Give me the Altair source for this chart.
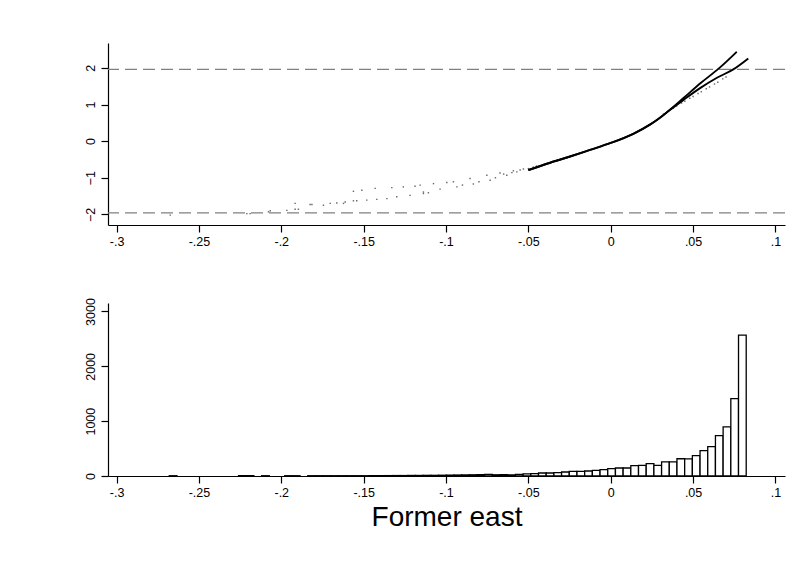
import altair as alt
import pandas as pd

# ---- histogram: 75 equal-width bins of the estimated effect ----
bin_start0 = -0.268
bin_width = 0.00467
bin_counts = [
    5, 0, 0, 0, 0, 0, 0, 0, 0, 6,
    6, 0, 5, 0, 0, 5, 5, 0, 5, 5,
    5, 5, 5, 5, 5, 5, 6, 6, 7, 8,
    8, 10, 10, 12, 12, 14, 16, 18, 20, 22,
    26, 28, 22, 24, 20, 30, 37, 43, 55, 55,
    61, 73, 85, 85, 91, 104, 116, 134, 146, 146,
    189, 195, 226, 195, 256, 256, 315, 311, 372, 463,
    536, 737, 896, 1410, 2568,
]

# ---- scatter of t-statistics against the effect ----
dot_x = [
    -0.2674, -0.2209, -0.2189, -0.2078, -0.2067, -0.1966, -0.1916, -0.1916,
    -0.1896, -0.1825, -0.1814, -0.1744, -0.1703, -0.1663, -0.1622, -0.1612,
    -0.1562, -0.1562, -0.1542, -0.1511, -0.1481, -0.1430, -0.1420, -0.1359,
    -0.1329, -0.1299, -0.1259, -0.1218, -0.1188, -0.1157, -0.1137, -0.1137,
    -0.1107, -0.1076, -0.1036, -0.0995, -0.0955, -0.0934, -0.0900, -0.0854,
    -0.0834, -0.0800, -0.0752, -0.0732, -0.0700, -0.0672, -0.0650, -0.0631,
    -0.0600, -0.0591, -0.0570, -0.0550, -0.0530, -0.0500, -0.0470, -0.0450,
    0.0320, 0.0350, 0.0380, 0.0400, 0.0430, 0.0450, 0.0480, 0.0500,
    0.0530, 0.0550, 0.0580, 0.0600, 0.0630, 0.0650, 0.0680, 0.0700,
]
dot_y = [
    -2.02, -1.98, -1.98, -1.93, -1.90, -1.89, -1.70, -1.86,
    -1.86, -1.73, -1.73, -1.75, -1.70, -1.69, -1.70, -1.66,
    -1.37, -1.63, -1.63, -1.34, -1.61, -1.29, -1.59, -1.57,
    -1.27, -1.52, -1.25, -1.48, -1.23, -1.20, -1.43, -1.39,
    -1.41, -1.16, -1.31, -1.13, -1.11, -1.25, -1.20, -1.02,
    -1.17, -1.11, -0.93, -1.07, -1.00, -0.87, -0.90, -0.93,
    -0.86, -0.81, -0.84, -0.79, -0.76, -0.75, -0.71, -0.68,
    0.74, 0.82, 0.90, 0.96, 1.04, 1.09, 1.17, 1.22,
    1.30, 1.35, 1.43, 1.48, 1.56, 1.61, 1.70, 1.75,
]

# ---- two fitted curves sharing the same lower part ----
common_x = [-0.050, -0.0368, -0.0247, -0.0126, 0.0, 0.0137, 0.0238, 0.0299, 0.035]
common_y = [-0.79, -0.59, -0.42, -0.24, -0.05, 0.20, 0.45, 0.64, 0.82]
steep_x = [0.044, 0.055, 0.0655, 0.0765]
steep_y = [1.17, 1.60, 1.98, 2.44]
flat_x = [0.044, 0.054, 0.0645, 0.0744, 0.0835]
flat_y = [1.12, 1.44, 1.73, 1.96, 2.26]

crit_values = [-1.96, 1.96]

x_ticks = [-0.3, -0.25, -0.2, -0.15, -0.1, -0.05, 0, 0.05, 0.1]
x_domain = [-0.3052, 0.1058]

FONT = "Liberation Sans"
label_expr = "datum.value == 0 ? '0' : replace(toString(datum.value), '0.', '.')"

hist_df = pd.DataFrame({
    "lo": [bin_start0 + i * bin_width for i in range(len(bin_counts))],
    "hi": [bin_start0 + (i + 1) * bin_width for i in range(len(bin_counts))],
    "n": bin_counts,
})
hist_df = hist_df[hist_df["n"] > 0]

dots_df = pd.DataFrame({"b": dot_x, "t": dot_y})
lines_df = pd.DataFrame({
    "b": common_x + steep_x + common_x + flat_x,
    "t": common_y + steep_y + common_y + flat_y,
    "fit": ["a"] * (len(common_x) + len(steep_x)) + ["b"] * (len(common_x) + len(flat_x)),
})
crit_df = pd.DataFrame({"t": crit_values})

x_axis = alt.Axis(values=x_ticks, labelExpr=label_expr, title=None, grid=False,
                  tickSize=7, labelPadding=3)
x_scale = alt.Scale(domain=x_domain, nice=False, zero=False)

W = 677
top_y = alt.Y("t:Q", scale=alt.Scale(domain=[-2.29, 2.68], nice=False, zero=False),
              axis=alt.Axis(values=[-2, -1, 0, 1, 2], title=None, grid=False,
                            labelAngle=270, labelAlign="center", labelBaseline="bottom",
                            tickSize=7, labelPadding=4))

crit = alt.Chart(crit_df).mark_rule(color="#808080", strokeWidth=1.4,
                                    strokeDash=[12, 6]).encode(y=top_y)
dots = alt.Chart(dots_df).mark_square(size=2, color="#555555", opacity=0.9).encode(
    x=alt.X("b:Q", scale=x_scale, axis=x_axis), y=top_y)
fits = alt.Chart(lines_df).mark_line(color="black", strokeWidth=1.9,
                                     interpolate="monotone").encode(
    x=alt.X("b:Q", scale=x_scale, axis=x_axis), y=top_y, detail="fit:N")

top = alt.layer(crit, dots, fits).properties(width=W, height=182)

hist = alt.Chart(hist_df).mark_rect(fill="white", stroke="black", strokeWidth=1.3).encode(
    x=alt.X("lo:Q", scale=x_scale,
            axis=alt.Axis(values=x_ticks, labelExpr=label_expr, title="Former east",
                          grid=False, tickSize=7, labelPadding=3,
                          titleFontSize=28, titleFont=FONT, titleFontWeight="normal",
                          titleBaseline="alphabetic", titleY=49)),
    x2="hi:Q",
    y=alt.Y("n:Q", scale=alt.Scale(domain=[0, 3155], nice=False),
            axis=alt.Axis(values=[0, 1000, 2000, 3000], format="d", title=None,
                          grid=False, labelAngle=270, labelAlign="center",
                          labelBaseline="bottom", tickSize=7, labelPadding=4)),
    y2=alt.datum(0),
).properties(width=W, height=173)

chart = alt.vconcat(top, hist, spacing=49).properties(
    padding={"left": 83, "top": 43, "right": 5, "bottom": 5},
    background="white",
).configure_view(stroke=None).configure_axis(
    domainColor="black", tickColor="black", labelColor="black",
    domainWidth=1.2, tickWidth=1.2, labelFont=FONT, labelFontSize=12.5,
    titleColor="black",
)

chart.save("out.html", embed_options={"renderer": "svg", "actions": False})
